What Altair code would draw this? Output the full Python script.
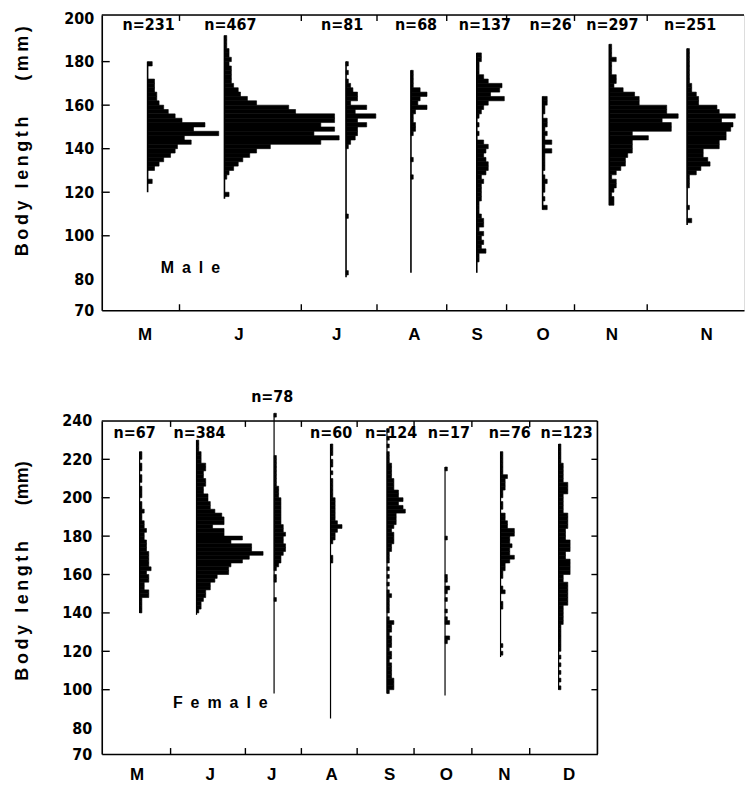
import altair as alt
import pandas as pd

NUM_FONT = "Liberation Sans Narrow, DejaVu Sans Condensed, sans-serif"
TXT_FONT = "Liberation Sans, Arial, sans-serif"
THIN = "\u2009"
EN = "\u2002"
EM = "\u2003"

# ---------------- Male panel data ----------------
M_MONTHS = ["M", "J", "J", "A", "S", "O", "N", "N"]
M_N = ["n=231", "n=467", "n=81", "n=68", "n=137", "n=26", "n=297", "n=251"]
M_BASE = [20.0, 53.5, 106.5, 134.8, 163.5, 192.2, 221.3, 255.2]
M_MONTH_X = [18.7, 59.6, 102.2, 136.1, 163.5, 192.2, 222.2, 263.5]
M_N_X = [20.4, 56.1, 104.8, 137.0, 167.0, 195.7, 222.6, 256.5]
M_N_Y = [197, 197, 197, 197, 197, 197, 197, 197]
M_MIN = [120, 117, 81, 83, 83, 112, 114, 105]
M_MAX = [180, 192, 180, 176, 184, 164, 188, 186]
M_TOP_BIN = [178, 190, 178, 174, 182, 162, 186, 184]
M_MAY = [2, 0, 0, 0, 3, 3, 3, 4, 4, 5, 7, 9, 12, 15, 25, 20, 31, 16, 19, 13, 12, 10, 7, 5, 3, 0, 0, 2]
M_JUN = [1, 1, 1, 2, 2, 3, 2, 3, 3, 3, 3, 4, 6, 7, 10, 14, 28, 31, 48, 48, 42, 48, 39, 50, 42, 20,
         14, 11, 8, 6, 4, 2, 1, 0, 0, 0, 2]
M_JUL = [1, 0, 1, 0, 1, 2, 3, 5, 5, 2, 9, 4, 13, 5, 9, 5, 5, 4, 2, 1,
         0, 0, 0, 0, 0, 0, 0, 0, 0, 0, 0, 0, 0, 0, 0, 1,
         0, 0, 0, 0, 0, 0, 0, 0, 0, 0, 0, 0, 1]
M_AUG = [1, 1, 1, 1, 4, 7, 4, 3, 7, 2, 1, 1, 2, 2, 1, 0, 0, 0, 0, 0, 1, 0, 0, 0, 1]
M_SEP = [2, 2, 1, 1, 1, 3, 5, 11, 10, 6, 12, 5, 3, 2, 1, 0, 1, 0, 1, 0, 3, 5, 4, 3, 4, 5, 5, 4, 2, 3,
         2, 2, 2, 2, 1, 1, 1, 2, 3, 3, 1, 3, 2, 3, 2, 4, 1, 1, 0, 0]
M_OCT = [2, 2, 1, 1, 0, 2, 2, 1, 2, 1, 4, 1, 4, 1, 1, 1, 1, 0, 1, 2, 1, 1, 0, 1, 0, 2]
M_NOV1 = [1, 1, 1, 3, 1, 1, 1, 3, 3, 2, 6, 11, 13, 13, 25, 25, 30, 23, 27, 27, 10, 17, 10, 10, 10,
          8, 7, 7, 5, 3, 1, 3, 3, 2, 1, 2, 2]
M_NOV2 = [1, 1, 1, 1, 1, 1, 1, 1, 2, 2, 4, 5, 5, 13, 14, 21, 15, 20, 19, 17, 17, 14, 14, 7, 7, 9, 10,
          6, 4, 1, 1, 1, 0, 0, 0, 0, 1, 0, 0, 2]
M_COUNTS = [M_MAY, M_JUN, M_JUL, M_AUG, M_SEP, M_OCT, M_NOV1, M_NOV2]
M_BOUNDS = [33.9, 87.0, 120.0, 150.4, 176.5, 206.1, 237.8]
M_YLABELS = [70, 80, 100, 120, 140, 160, 180, 200]
M_YTICKS = [100, 120, 140, 160, 180]

# ---------------- Female panel data ----------------
F_MONTHS = ["M", "J", "J", "A", "S", "O", "N", "D"]
F_N = ["n=67", "n=384", "n=78", "n=60", "n=124", "n=17", "n=76", "n=123"]
F_BASE = [16.5, 41.3, 75.1, 99.7, 124.3, 149.6, 173.8, 199.1]
F_MONTH_X = [15.2, 47.0, 73.9, 100.0, 125.2, 150.0, 175.2, 203.5]
F_N_X = [14.3, 42.6, 74.3, 100.0, 126.1, 151.3, 177.8, 202.6]
F_N_Y = [233.5, 233.5, 252.7, 233.5, 233.5, 233.5, 233.5, 233.5]
F_MIN = [140, 139, 98, 85, 98, 97, 117, 100]
F_MAX = [224, 230, 244, 228, 236, 216, 224, 228]
F_TOP_BIN = [222, 228, 242, 226, 234, 214, 222, 226]
F_MAY = [1, 1, 0, 1, 1, 0, 1, 1, 0, 1, 1, 1, 0, 1, 1, 2, 1, 1, 2, 2, 3, 2, 2, 3, 3, 3, 4, 4, 4, 4,
         5, 3, 4, 4, 2, 2, 4, 4, 1, 1, 1, 1]
F_JUN = [1, 1, 1, 2, 2, 2, 4, 4, 3, 3, 4, 4, 3, 3, 5, 5, 6, 6, 8, 11, 12, 12, 7, 12, 12, 20, 15, 24,
         24, 29, 23, 20, 15, 14, 14, 9, 8, 6, 6, 4, 4, 3, 2, 2, 1]
F_JUL = [1, 0, 0, 0, 0, 0, 0, 0, 0, 0, 0,
         1, 1, 1, 1, 1, 1, 1, 1, 2, 2, 2, 3, 3, 3, 3, 3, 3, 3, 4, 4, 5, 4, 4, 5, 5, 4, 3, 3, 2, 1,
         0, 1, 1, 0, 0, 0, 0, 1]
F_AUG = [1, 1, 1, 0, 1, 1, 0, 1, 0, 1, 1, 1, 1, 1, 2, 2, 2, 2, 2, 2, 3, 5, 3, 2, 2, 1, 0, 0, 0, 1, 1]
F_SEP = [1, 0, 1, 0, 1, 0, 1, 1, 1, 2, 2, 2, 2, 3, 3, 3, 5, 5, 7, 5, 7, 8, 4, 4, 4, 3, 2,
         3, 3, 3, 2, 2, 1, 1, 1, 0, 1, 0, 1, 0, 1, 0, 1, 2, 1, 1, 1, 1, 0, 1, 3, 2, 2, 1,
         2, 2, 2, 1, 2, 2, 1, 2, 2, 2, 2, 3, 3, 3, 1]
F_OCT = [1, 0, 0, 0, 0, 0, 0, 0, 0, 0, 0, 0, 0, 0, 0, 0, 0, 0, 1, 0, 0, 0, 0, 0, 0, 0, 0, 0,
         1, 1, 0, 2, 1, 0, 1, 0, 0, 1, 0, 1, 2, 0, 0, 0, 2, 1]
F_NOV = [1, 1, 1, 1, 1, 1, 3, 2, 2, 2, 1, 1, 0, 1, 1, 0, 2, 2, 3, 3, 6, 6, 4, 4, 5, 4, 4,
         6, 4, 2, 2, 1, 1, 0, 0, 1, 2, 0, 0, 1, 1, 0, 0, 0, 0, 0, 0, 0, 0, 0, 1, 0, 1]
F_DEC = [1, 1, 1, 1, 1, 2, 2, 2, 2, 2, 4, 4, 4, 2, 2, 2, 2, 2, 4, 4, 4, 4, 3, 3, 3, 5, 5, 5, 3, 3,
         5, 5, 5, 5, 2, 2, 4, 4, 4, 4, 4, 4, 2, 2, 2, 2, 2, 1, 1, 1, 1, 1, 1, 1,
         0, 1, 0, 1, 0, 1, 0, 1, 0, 1]
F_COUNTS = [F_MAY, F_JUN, F_JUL, F_AUG, F_SEP, F_OCT, F_NOV, F_DEC]
F_BOUNDS = [30.0, 62.6, 87.0, 111.3, 136.1, 161.3, 186.5]
F_YLABELS = [70, 80, 100, 120, 140, 160, 180, 200, 220, 240]
F_YTICKS = [100, 120, 140, 160, 180, 200, 220]


def bars_frame(base, top_bin, counts):
    rows = []
    for k, (b, t, cs) in enumerate(zip(base, top_bin, counts)):
        for i, c in enumerate(cs):
            if c > 0:
                rows.append({"sample": k, "base": b, "bin": t - 2 * i, "count": c})
    return pd.DataFrame(rows)


def label_expr(values, labels):
    arr_v = "[" + ",".join(repr(float(v)) for v in values) + "]"
    arr_l = "[" + ",".join("'" + s + "'" for s in labels) + "]"
    return f"{arr_l}[indexof({arr_v}, datum.value)]"


def panel(months, month_x, nlab, nx, ny, base, ymin, ymax, top_bin, counts, bounds,
          ylabels, yticks, ydom, yrange, xmax, width, height, sex_text, sex_x, sex_y,
          title, title_y, ylab_pad, xlab_pad, right_frame, line_w):
    xs = alt.Scale(domain=[0, xmax], nice=False, zero=False)
    ys = alt.Scale(domain=ydom, range=yrange, nice=False, zero=False)

    xaxis = alt.Axis(values=month_x, labelExpr=label_expr(month_x, months), title=None,
                     ticks=False, grid=False, domainColor="black", domainWidth=1.6,
                     labelFont=TXT_FONT, labelFontSize=17, labelFontWeight="bold",
                     labelColor="black", labelPadding=xlab_pad, labelOverlap=False,
                     labelFlush=False, labelAngle=0)
    yaxis = alt.Axis(values=ylabels, title=title, titleX=-79, titleY=title_y, titleAngle=270,
                     titleAlign="center", titleBaseline="middle", titleFont=TXT_FONT,
                     titleFontSize=18, titleFontWeight="bold", titleColor="black",
                     ticks=False, grid=False, domainColor="black", domainWidth=1.6,
                     labelFont=NUM_FONT, labelFontSize=16, labelFontWeight="bold",
                     labelColor="black", labelPadding=ylab_pad, labelOverlap=False,
                     labelFlush=False)

    def X(f):
        return alt.X(f, scale=xs, axis=xaxis)

    def Y(f):
        return alt.Y(f, scale=ys, axis=yaxis)

    bars = alt.Chart(bars_frame(base, top_bin, counts)).transform_calculate(
        xe="datum.base + datum.count", ye="datum.bin + 2"
    ).mark_rect(color="black", stroke="black", strokeWidth=0.6).encode(
        x=X("base:Q"), x2="xe:Q", y=Y("bin:Q"), y2="ye:Q",
    )

    lines = alt.Chart(pd.DataFrame({"base": base, "lo": ymin, "hi": ymax})).mark_rule(
        color="black", strokeWidth=line_w
    ).encode(x=X("base:Q"), y=Y("lo:Q"), y2="hi:Q")

    ntext = alt.Chart(pd.DataFrame({"x": nx, "y": ny, "t": nlab})).mark_text(
        font=NUM_FONT, fontSize=16, fontWeight="bold", color="black",
        align="center", baseline="middle"
    ).encode(x=X("x:Q"), y=Y("y:Q"), text="t:N")

    sex = alt.Chart(pd.DataFrame({"x": [sex_x], "y": [sex_y], "t": [sex_text]})).mark_text(
        font=TXT_FONT, fontSize=16, fontWeight="bold", color="black",
        align="left", baseline="middle"
    ).encode(x=X("x:Q"), y=Y("y:Q"), text="t:N")

    one = pd.DataFrame({"d": [0]})
    top_line = alt.Chart(one).mark_rule(color="black", strokeWidth=1.6).encode(
        x=alt.value(0), x2=alt.value(width), y=alt.value(0)
    )

    ytk = pd.DataFrame({"v": yticks})
    left_ticks = alt.Chart(ytk).mark_rule(color="black", strokeWidth=1.4).encode(
        y=Y("v:Q"), x=alt.value(0), x2=alt.value(8)
    )

    bdf = pd.DataFrame({"b": bounds})
    bot_ticks = alt.Chart(bdf).mark_rule(color="black", strokeWidth=1.4).encode(
        x=X("b:Q"), y=alt.value(height), y2=alt.value(height - 6)
    )
    top_ticks = alt.Chart(bdf).mark_rule(color="black", strokeWidth=1.4).encode(
        x=X("b:Q"), y=alt.value(0), y2=alt.value(6)
    )

    layers = [bars, lines, ntext, sex, top_line, left_ticks, bot_ticks, top_ticks]
    if right_frame:
        layers.append(alt.Chart(one).mark_rule(color="black", strokeWidth=1.6).encode(
            x=alt.value(width), y=alt.value(0), y2=alt.value(height)))
        layers.append(alt.Chart(ytk).mark_rule(color="black", strokeWidth=1.4).encode(
            y=Y("v:Q"), x=alt.value(width - 6), x2=alt.value(width)))
    return alt.layer(*layers).properties(width=width, height=height)


top_title = THIN.join("Body length") + EM + EM + THIN.join("(mm)")
bot_title = THIN.join("Body length") + EM + EM + "(mm)"

male = panel(M_MONTHS, M_MONTH_X, M_N, M_N_X, M_N_Y, M_BASE, M_MIN, M_MAX, M_TOP_BIN,
             M_COUNTS, M_BOUNDS, M_YLABELS, M_YTICKS, [70, 80, 201.4], [296, 265, 0],
             280, 644, 296, EN.join("Male"), 25.7, 85.0, top_title, 126, 8, 16, False, 1.6)

female = panel(F_MONTHS, F_MONTH_X, F_N, F_N_X, F_N_Y, F_BASE, F_MIN, F_MAX, F_TOP_BIN,
               F_COUNTS, F_BOUNDS, F_YLABELS, F_YTICKS, [70, 80, 240], [334, 308, 0],
               216, 497, 334, EN.join("Female"), 31.0, 93.0, bot_title, 150, 10, 13, True, 1.2)

chart = alt.vconcat(male, female, spacing=45).properties(
    padding={"left": 5, "top": 0, "right": 0, "bottom": 0}
).configure_view(stroke=None).configure(background="white")

chart.save("out.html", embed_options={"renderer": "svg", "actions": False})
